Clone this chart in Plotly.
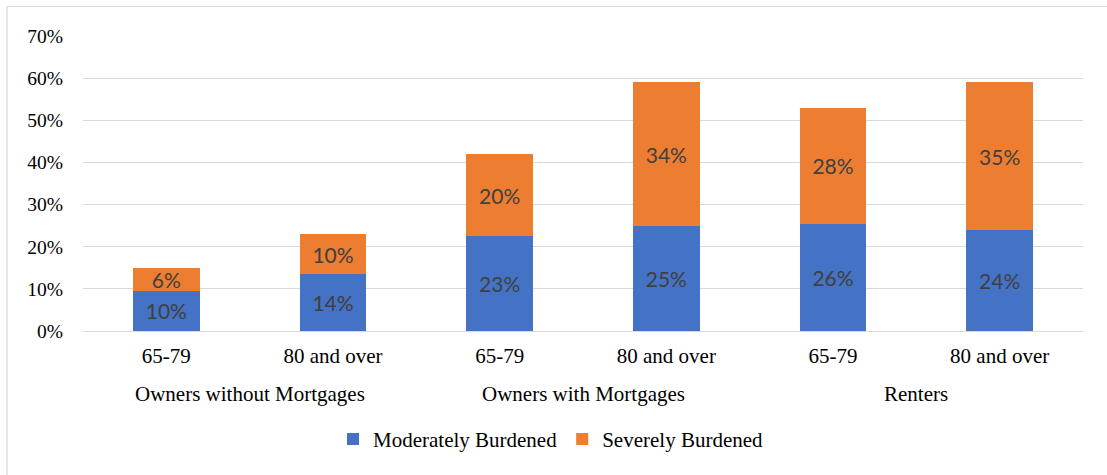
import plotly.graph_objects as go

# Housing cost burden by tenure and age group (percent of households)
groups = ["Owners without Mortgages", "Owners with Mortgages", "Renters"]
age_labels = ["65-79", "80 and over", "65-79", "80 and over", "65-79", "80 and over"]
moderately = [9.5, 13.5, 22.5, 25.0, 25.5, 24.0]
severely = [5.5, 9.5, 19.5, 34.0, 27.5, 35.0]
y_ticks = [0, 10, 20, 30, 40, 50, 60, 70]
y_tick_labels = ["0%", "10%", "20%", "30%", "40%", "50%", "60%", "70%"]

positions = list(range(len(age_labels)))

BLUE = "#4472C4"
ORANGE = "#ED7D31"
SERIF = "Liberation Serif"
SANS = "Lato"
LABEL_FONT = dict(family=SANS, size=21, color="#404040")
TEXT_FONT = dict(family=SERIF, size=21, color="#000000")

fig = go.Figure()
fig.add_trace(go.Bar(
    name="Moderately Burdened", x=positions, y=moderately,
    marker=dict(color=BLUE, line=dict(width=0)),
    texttemplate="%{y:.0f}%", textposition="inside", insidetextanchor="middle",
    insidetextfont=LABEL_FONT, constraintext="none", hoverinfo="skip",
))
fig.add_trace(go.Bar(
    name="Severely Burdened", x=positions, y=severely,
    marker=dict(color=ORANGE, line=dict(width=0)),
    texttemplate="%{y:.0f}%", textposition="inside", insidetextanchor="middle",
    insidetextfont=LABEL_FONT, constraintext="none", hoverinfo="skip",
))

# Group captions under each pair of bars
for i, g in enumerate(groups):
    fig.add_annotation(
        x=2 * i + 0.5, xref="x", y=-0.215, yref="paper",
        text=g, showarrow=False, xanchor="center", yanchor="middle",
        font=TEXT_FONT,
    )

# Outer chart frame
fig.add_shape(type="rect", xref="paper", yref="paper",
              x0=-0.076, x1=1.04, y0=-0.6, y1=1.1,
              line=dict(color="#D9D9D9", width=1.2), fillcolor="rgba(0,0,0,0)", layer="below")

fig.update_layout(
    width=1107, height=475,
    margin=dict(l=83, r=24, t=36, b=143.5),
    paper_bgcolor="white", plot_bgcolor="white",
    barmode="stack", bargap=0.6,
    font=TEXT_FONT,
    xaxis=dict(
        tickmode="array", tickvals=positions, ticktext=age_labels,
        range=[-0.5, len(positions) - 0.5],
        showgrid=False, zeroline=False, showline=False, ticks="",
        ticklabelstandoff=10,
        tickfont=TEXT_FONT,
    ),
    yaxis=dict(
        range=[0, 70], tickmode="array", tickvals=y_ticks, ticktext=y_tick_labels,
        showgrid=True, gridcolor="#D9D9D9", gridwidth=1,
        zeroline=True, zerolinecolor="#D9D9D9", zerolinewidth=1,
        showline=False, ticks="", ticklabelstandoff=19,
        tickfont=dict(family=SERIF, size=19.5, color="#000000"),
    ),
    legend=dict(
        orientation="h", x=0.468, xanchor="center", y=-0.367, yanchor="middle",
        font=TEXT_FONT,
        bgcolor="rgba(0,0,0,0)", traceorder="normal",
    ),
    showlegend=True,
)

fig.write_html("out.html")
